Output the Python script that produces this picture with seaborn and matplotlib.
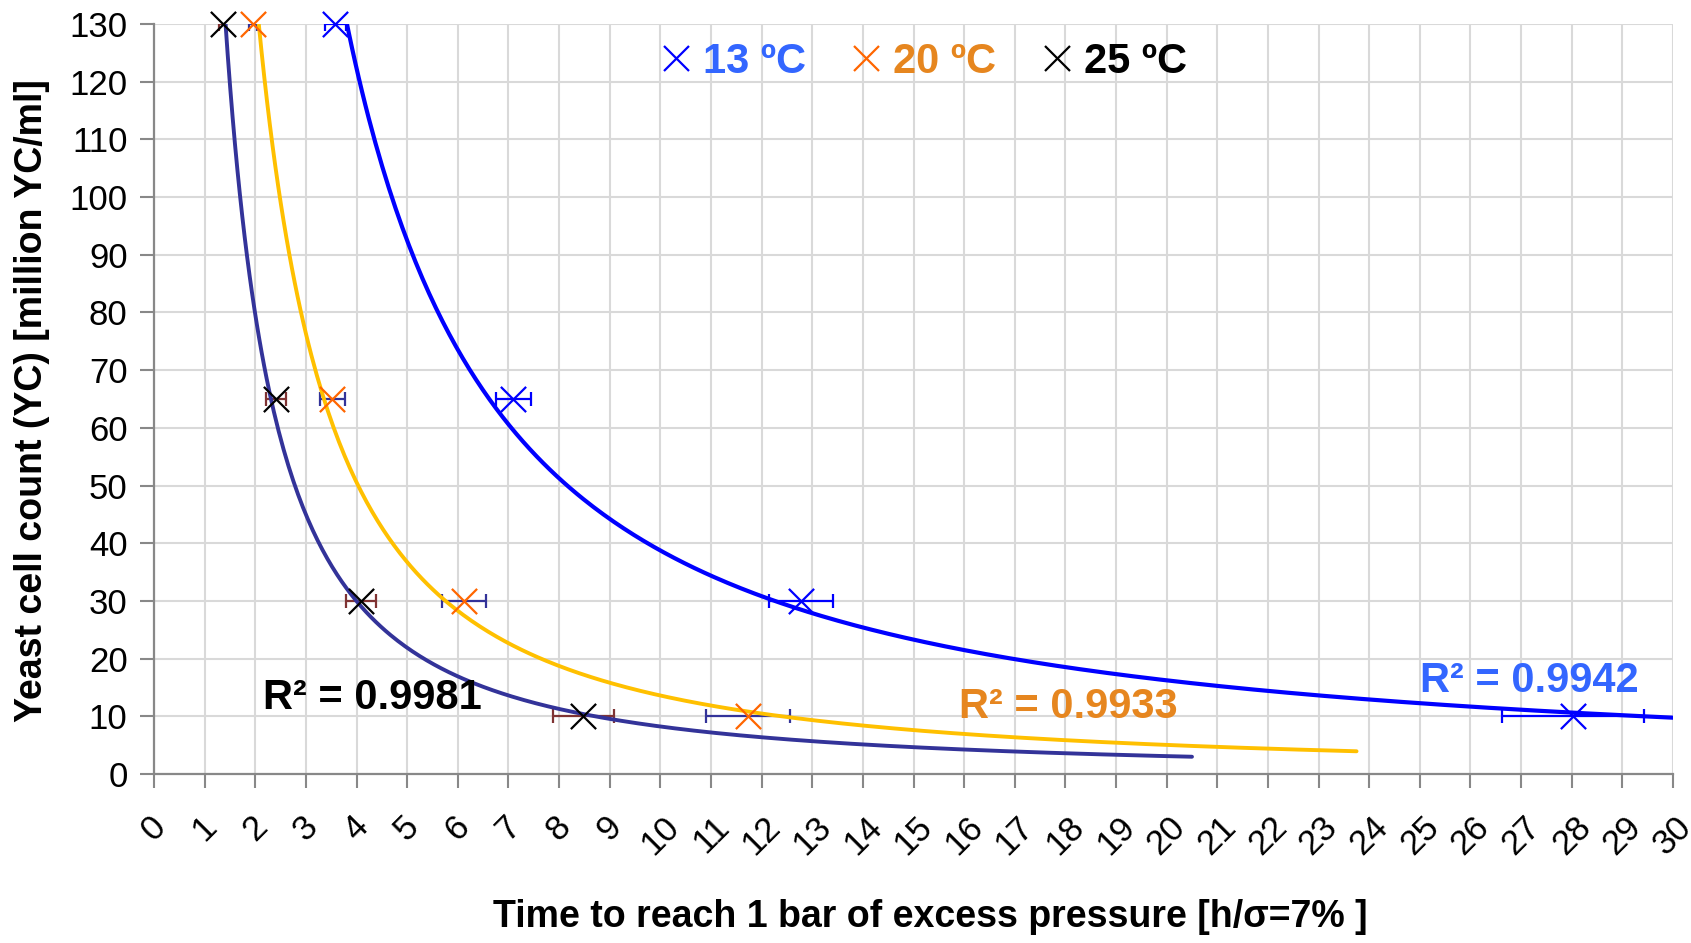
import numpy as np
import pandas as pd
import matplotlib
matplotlib.use("Agg")
import matplotlib.pyplot as plt
import seaborn as sns

# ---- data ----
series = ["13 ºC", "20 ºC", "25 ºC"]
yc_counts = [130, 65, 30, 10]
time_13 = [3.58, 7.10, 12.78, 28.02]
err_13 = [0.21, 0.34, 0.63, 1.40]
time_20 = [1.96, 3.52, 6.12, 11.74]
err_20 = [0.08, 0.25, 0.44, 0.83]
time_25 = [1.36, 2.41, 4.09, 8.48]
err_25 = [0.07, 0.19, 0.30, 0.60]
trend_end = [30.0, 23.75, 20.5]          # trendline forecast end (h)
r2_labels = ["R² = 0.9942", "R² = 0.9933", "R² = 0.9981"]
x_ticks = list(range(0, 31))
y_ticks = list(range(0, 131, 10))

# ---- style ----
marker_colors = ["#0000FF", "#FF6600", "#000000"]
err_colors = ["#0000FF", "#333399", "#7F3333"]
line_colors = ["#0000FF", "#FFC000", "#333399"]
text_colors = ["#3366FF", "#E6861F", "#000000"]
line_widths = [3.0, 2.8, 2.8]
r2_pos = [(25.0, 16.1), (15.9, 11.6), (2.15, 13.1)]

sns.set_theme(style="white")
plt.rcParams["font.family"] = ["Liberation Sans", "DejaVu Sans"]
plt.rcParams["text.color"] = "black"
plt.rcParams["axes.labelcolor"] = "black"

fig = plt.figure(figsize=(16.91, 9.43), dpi=100)
ax = fig.add_axes([154 / 1691, 1 - 774 / 943, 1519 / 1691, 750 / 943])

times = [time_13, time_20, time_25]
errs = [err_13, err_20, err_25]

frames = []
for name, t in zip(series, times):
    frames.append(pd.DataFrame({"time": t, "yc": yc_counts, "series": name}))
df = pd.concat(frames, ignore_index=True)

# error bars
for i, (t, e) in enumerate(zip(times, errs)):
    ax.errorbar(t, yc_counts, xerr=e, fmt="none", ecolor=err_colors[i],
                elinewidth=1.6, capsize=5, capthick=1.6, zorder=3)

# power trendlines (least squares in log-log space, like Excel)
for i, t in enumerate(times):
    b, lna = np.polyfit(np.log(t), np.log(yc_counts), 1)
    xs = np.linspace(min(t), trend_end[i], 400)
    ys = np.exp(lna) * xs ** b
    sns.lineplot(x=xs, y=ys, ax=ax, color=line_colors[i], lw=line_widths[i],
                 zorder=4, legend=False)

# markers
handles = []
for i, name in enumerate(series):
    sub = df[df["series"] == name]
    sns.scatterplot(data=sub, x="time", y="yc", ax=ax, marker="x", s=330,
                    color=marker_colors[i], linewidth=1.6, zorder=5,
                    legend=False, clip_on=False)
    h, = ax.plot([], [], linestyle="none", marker="x", markersize=18,
                 markeredgewidth=1.6, color=marker_colors[i])
    handles.append(h)

# R² labels
for i in range(3):
    ax.text(r2_pos[i][0], r2_pos[i][1], r2_labels[i], color=text_colors[i],
            fontsize=30, fontweight="bold", ha="left", va="center", zorder=6)

# legend
leg = ax.legend(handles, series, loc="center", bbox_to_anchor=(0.507, 0.95),
                ncol=3, frameon=False, handlelength=0.7,
                handletextpad=0.3, columnspacing=1.1,
                prop={"weight": "bold", "size": 30, "family": "Liberation Sans"})
for txt, c in zip(leg.get_texts(), text_colors):
    txt.set_color(c)

# axes
ax.set_xlim(0, 30)
ax.set_ylim(0, 130)
ax.set_xticks(x_ticks)
ax.set_yticks(y_ticks)
ax.set_xticklabels([str(v) for v in x_ticks], rotation=45, ha="center", va="top")
ax.tick_params(axis="both", labelsize=25, colors="#888888", labelcolor="black",
               length=10, width=1.5, direction="out")
ax.tick_params(axis="x", bottom=True, pad=16)
ax.tick_params(axis="y", left=True, pad=9)
ax.grid(True, color="#D9D9D9", lw=1.5)
for s in ["top", "right"]:
    ax.spines[s].set_visible(False)
for s in ["left", "bottom"]:
    ax.spines[s].set_color("#888888")
    ax.spines[s].set_linewidth(1.6)
ax.set_axisbelow(True)

ax.set_xlabel("")
ax.set_ylabel("")
fig.text(930 / 1691, 1 - 917 / 943, "Time to reach 1 bar of excess pressure [h/σ=7% ]",
         fontsize=27, fontweight="bold", ha="center", va="center", color="black")
fig.text(32 / 1691, 1 - 401 / 943, "Yeast cell count (YC) [million YC/ml]",
         fontsize=27, fontweight="bold", ha="center", va="center", rotation=90,
         color="black")

fig.savefig("out.png", dpi=100)
